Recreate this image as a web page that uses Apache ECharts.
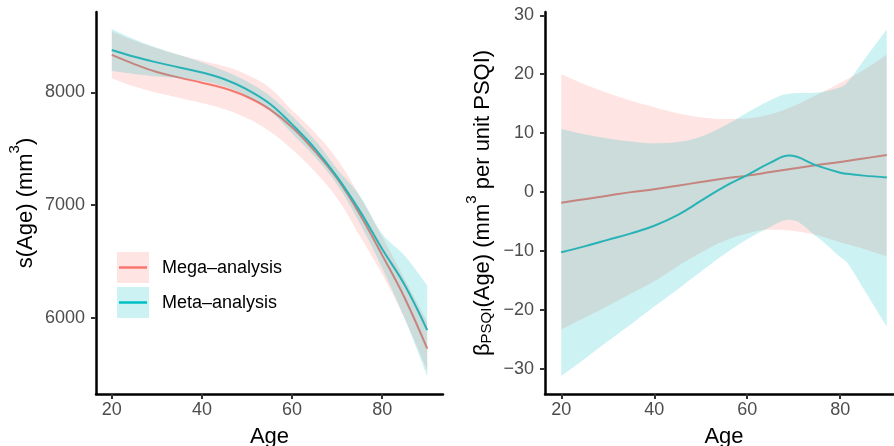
<!DOCTYPE html>
<html><head><meta charset="utf-8">
<script src="https://cdn.jsdelivr.net/npm/echarts@6/dist/echarts.min.js"></script>
<style>html,body{margin:0;padding:0;background:#fff}#c{width:894px;height:446px}</style>
</head><body><div id="c"></div>
<script>
// ---------- Left panel: s(Age) ----------
const ages = [20,25,30,35,40,45,50,55,60,65,70,75,80,85,90];
const megaFit   = [8331,8250,8180,8130,8085,8035,7960,7850,7690,7480,7235,6920,6555,6175,5725];
const megaUpper = [8540,8460,8390,8330,8280,8230,8155,8040,7840,7645,7405,7080,6720,6340,5960];
const megaLower = [8124,8050,7995,7950,7905,7850,7770,7655,7495,7300,7060,6730,6385,5990,5530];
const metaFit   = [8375,8315,8265,8220,8175,8115,8025,7900,7715,7505,7250,6950,6610,6290,5890];
const metaUpper = [8562,8470,8395,8330,8265,8190,8095,7970,7790,7580,7320,7085,6745,6550,6285];
const metaLower = [8189,8162,8140,8125,8100,8050,7965,7840,7635,7430,7180,6840,6440,5990,5480];

// ---------- Right panel: beta_PSQI(Age) ----------
const betaMegaAges  = [20,25,30,35,40,45,50,55,60,65,70,75,80,85,90];
const betaMegaFit   = [-1.8,-1.2,-0.6,0.0,0.5,1.1,1.7,2.3,2.8,3.4,4.0,4.6,5.1,5.7,6.3];
const betaMegaUpper = [20.0,18.3,16.8,15.5,14.4,13.4,12.7,12.4,12.5,13.2,14.6,16.5,18.5,20.7,23.3];
const betaMegaLower = [-23.3,-21.3,-19.3,-17.2,-15.1,-12.6,-10.3,-8.3,-7.0,-6.4,-6.6,-7.3,-8.5,-9.6,-10.9];
const betaMetaAges  = [20,25,30,35,40,45,50,55,60,65,69,75,80,81.5,85,90];
const betaMetaFit   = [-10.2,-9.2,-8.1,-7.0,-5.7,-3.9,-1.5,0.9,2.9,5.0,6.2,4.5,3.3,3.1,2.8,2.5];
const betaMetaUpper = [10.7,9.8,9.1,8.6,8.3,8.5,9.4,11.2,13.5,15.6,16.7,16.9,17.8,18.6,22.3,27.6];
const betaMetaLower = [-31.2,-28.3,-25.3,-22.4,-19.4,-16.5,-13.5,-10.6,-8.0,-5.9,-4.7,-7.6,-11.0,-12.0,-16.4,-22.8];

// ---------- Axis ticks ----------
const xTicks = [20,40,60,80];
const yTicksLeft = [6000,7000,8000];
const yTicksRight = [-30,-20,-10,0,10,20,30];
const legendNames = ['Mega\u2013analysis','Meta\u2013analysis'];

const RED = '#F8766D', CYAN = '#00BFC4';
const FONT = 'Liberation Sans, Arial, Helvetica, sans-serif';

function pairs(xs, ys){ return xs.map((x,i)=>[x, ys[i]]); }
// value first, age second, so the value dimension is the one that gets stacked
function vPairs(xs, vs){ return xs.map((x,i)=>[vs[i], x]); }

function lineSeries(name, xs, ys, color, idx){
  return { name, type:'line', xAxisIndex:idx, yAxisIndex:idx, data:pairs(xs,ys),
    smooth:0.4, symbol:'none', z:2, silent:true,
    lineStyle:{color, width:2} };
}
function bandSeries(stackName, xs, lo, hi, color, idx, z){
  const diff = hi.map((h,i)=>h-lo[i]);
  return [
    { type:'line', xAxisIndex:idx, yAxisIndex:idx, stack:stackName, stackStrategy:'all',
      data:vPairs(xs,lo), encode:{x:1, y:0}, smooth:0.4, symbol:'none', silent:true, z,
      lineStyle:{opacity:0, width:0} },
    { type:'line', xAxisIndex:idx, yAxisIndex:idx, stack:stackName, stackStrategy:'all',
      data:vPairs(xs,diff), encode:{x:1, y:0}, smooth:0.4, symbol:'none', silent:true, z,
      lineStyle:{opacity:0, width:0}, areaStyle:{color, opacity:0.2} }
  ];
}

function xAxis(idx, min, max){
  return { type:'value', gridIndex:idx, min, max,
    name:'Age', nameLocation:'middle', nameGap:32,
    nameTextStyle:{fontSize:22, color:'#000', fontFamily:FONT},
    splitLine:{show:false},
    axisLine:{show:true, onZero:false, lineStyle:{color:'#000', width:2.5}},
    axisTick:{show:true, customValues:xTicks, length:5, lineStyle:{color:'#333', width:2}},
    axisLabel:{customValues:xTicks, fontSize:18, color:'#4D4D4D', fontFamily:FONT, margin:7,
      formatter:v=>String(v)}
  };
}
function yAxis(idx, min, max, ticks, name, gap, rich){
  return { type:'value', gridIndex:idx, min, max,
    name, nameLocation:'middle', nameGap:gap, nameRotate:90,
    nameTextStyle:{fontSize:22, color:'#000', fontFamily:FONT, rich},
    splitLine:{show:false},
    axisLine:{show:true, onZero:false, lineStyle:{color:'#000', width:2.5}},
    axisTick:{show:true, customValues:ticks, length:5, lineStyle:{color:'#333', width:2}},
    axisLabel:{customValues:ticks, fontSize:18, color:'#4D4D4D', fontFamily:FONT, margin:11,
      formatter:v=>String(v).replace('-', '\u2212')}
  };
}

const richStyles = {
  a:{fontSize:22, lineHeight:22, verticalAlign:'bottom', color:'#000', fontFamily:FONT},
  sup:{fontSize:15, verticalAlign:'top', padding:[0,0,15,0], color:'#000', fontFamily:FONT},
  sub:{fontSize:15, verticalAlign:'bottom', color:'#000', fontFamily:FONT}
};

const chart = echarts.init(document.getElementById('c'), null, {renderer:'canvas'});
chart.setOption({
  animation:false,
  backgroundColor:'#fff',
  grid:[
    {left:96, top:12, width:347, height:382, containLabel:false, outerBoundsMode:'none'},
    {left:545, top:12, width:358, height:382, containLabel:false, outerBoundsMode:'none'}
  ],
  xAxis:[ xAxis(0, 16.5, 93.5), xAxis(1, 16.5, 93.5) ],
  yAxis:[
    yAxis(0, 5323, 8712, yTicksLeft, '{a|s(Age) (mm}{sup|3}{a|)}', 59, richStyles),
    yAxis(1, -34.25, 30.56, yTicksRight, '{a|\u03B2}{sub|PSQI}{a|(Age) (mm}{sup|3}{a| per unit PSQI)}', 51, richStyles)
  ],
  series:[
    lineSeries(legendNames[0], ages, megaFit, RED, 0),
    lineSeries(legendNames[1], ages, metaFit, CYAN, 0),
    ...bandSeries('megaL', ages, megaLower, megaUpper, RED, 0, 3),
    ...bandSeries('metaL', ages, metaLower, metaUpper, CYAN, 0, 4),
    lineSeries(legendNames[0], betaMegaAges, betaMegaFit, RED, 1),
    lineSeries(legendNames[1], betaMetaAges, betaMetaFit, CYAN, 1),
    ...bandSeries('megaR', betaMegaAges, betaMegaLower, betaMegaUpper, RED, 1, 3),
    ...bandSeries('metaR', betaMetaAges, betaMetaLower, betaMetaUpper, CYAN, 1, 4)
  ],
  graphic:[
    {type:'rect', shape:{x:117, y:252, width:32, height:31}, style:{fill:RED, opacity:0.2}, z:10},
    {type:'line', shape:{x1:119, y1:267.5, x2:147, y2:267.5}, style:{stroke:RED, lineWidth:2.5}, z:11},
    {type:'text', x:162, y:268, style:{text:legendNames[0], fontSize:18, fill:'#000', fontFamily:FONT, verticalAlign:'middle'}, z:11},
    {type:'rect', shape:{x:117, y:287, width:32, height:31}, style:{fill:CYAN, opacity:0.2}, z:10},
    {type:'line', shape:{x1:119, y1:302.5, x2:147, y2:302.5}, style:{stroke:CYAN, lineWidth:2.5}, z:11},
    {type:'text', x:162, y:303, style:{text:legendNames[1], fontSize:18, fill:'#000', fontFamily:FONT, verticalAlign:'middle'}, z:11}
  ]
});
</script>
</body></html>
